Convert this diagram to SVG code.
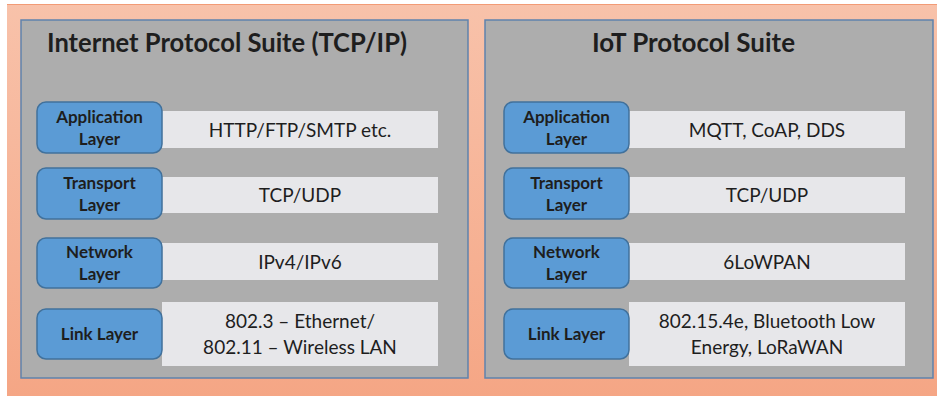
<svg xmlns="http://www.w3.org/2000/svg" width="939" height="397" viewBox="0 0 939 397">
  <defs>
    <linearGradient id="bg" x1="0" y1="0" x2="0" y2="1">
      <stop offset="0" stop-color="#f8c2aa"/>
      <stop offset="1" stop-color="#f5a685"/>
    </linearGradient>
    <style>
      .panel { fill: #adadad; stroke: #5f83ad; stroke-width: 1.5; }
      .title { font-family: Lato, "Liberation Sans", sans-serif; font-weight: bold; font-size: 26px; fill: #1e1e1e; }
      .layer { fill: #5b9bd5; stroke: #41719c; stroke-width: 1.5; }
      .layer-text { font-family: Lato, "Liberation Sans", sans-serif; font-weight: bold; font-size: 17px; fill: #1e1e1e; text-anchor: middle; }
      .proto { fill: #e7e7ea; }
      .proto-text { font-family: Lato, "Liberation Sans", sans-serif; font-size: 19px; fill: #1e1e1e; text-anchor: middle; }
    </style>
  </defs>

  <!-- background -->
  <rect x="7" y="4" width="930" height="392" fill="url(#bg)"/>
  <line x1="7" y1="4.5" x2="937" y2="4.5" stroke="#f29b76" stroke-width="1"/>

  <!-- Internet Protocol Suite -->
  <g id="tcpip-suite">
    <rect class="panel" x="21" y="20" width="447" height="358"/>
    <text class="title" x="47" y="52" textLength="360" lengthAdjust="spacingAndGlyphs">Internet Protocol Suite (TCP/IP)</text>
  </g>
  <g id="tcpip-application">
    <rect class="proto" x="162" y="111" width="276" height="37"/>
    <rect class="layer" x="37" y="102" width="125" height="51" rx="9"/>
    <text class="layer-text" x="99.5" y="123">Application</text>
    <text class="layer-text" x="99.5" y="145">Layer</text>
    <text class="proto-text" x="300" y="137">HTTP/FTP/SMTP etc.</text>
  </g>
  <g id="tcpip-transport">
    <rect class="proto" x="162" y="177" width="276" height="36"/>
    <rect class="layer" x="37" y="168" width="125" height="51" rx="9"/>
    <text class="layer-text" x="99.5" y="189">Transport</text>
    <text class="layer-text" x="99.5" y="211">Layer</text>
    <text class="proto-text" x="300" y="202">TCP/UDP</text>
  </g>
  <g id="tcpip-network">
    <rect class="proto" x="162" y="243" width="276" height="37"/>
    <rect class="layer" x="37" y="238" width="125" height="50" rx="9"/>
    <text class="layer-text" x="99.5" y="258">Network</text>
    <text class="layer-text" x="99.5" y="280">Layer</text>
    <text class="proto-text" x="300" y="269">IPv4/IPv6</text>
  </g>
  <g id="tcpip-link">
    <rect class="proto" x="162" y="302" width="276" height="64"/>
    <rect class="layer" x="37" y="309" width="125" height="50" rx="9"/>
    <text class="layer-text" x="99.5" y="340">Link Layer</text>
    <text class="proto-text" x="300" y="328">802.3 – Ethernet/</text>
    <text class="proto-text" x="300" y="354">802.11 – Wireless LAN</text>
  </g>

  <!-- IoT Protocol Suite -->
  <g id="iot-suite">
    <rect class="panel" x="485" y="20" width="448" height="358"/>
    <text class="title" x="592" y="52" textLength="203" lengthAdjust="spacingAndGlyphs">IoT Protocol Suite</text>
  </g>
  <g id="iot-application">
    <rect class="proto" x="629" y="111" width="276" height="37"/>
    <rect class="layer" x="504" y="102" width="125" height="51" rx="9"/>
    <text class="layer-text" x="566.5" y="123">Application</text>
    <text class="layer-text" x="566.5" y="145">Layer</text>
    <text class="proto-text" x="767" y="137">MQTT, CoAP, DDS</text>
  </g>
  <g id="iot-transport">
    <rect class="proto" x="629" y="177" width="276" height="36"/>
    <rect class="layer" x="504" y="168" width="125" height="51" rx="9"/>
    <text class="layer-text" x="566.5" y="189">Transport</text>
    <text class="layer-text" x="566.5" y="211">Layer</text>
    <text class="proto-text" x="767" y="202">TCP/UDP</text>
  </g>
  <g id="iot-network">
    <rect class="proto" x="629" y="243" width="276" height="37"/>
    <rect class="layer" x="504" y="238" width="125" height="50" rx="9"/>
    <text class="layer-text" x="566.5" y="258">Network</text>
    <text class="layer-text" x="566.5" y="280">Layer</text>
    <text class="proto-text" x="767" y="269">6LoWPAN</text>
  </g>
  <g id="iot-link">
    <rect class="proto" x="629" y="302" width="276" height="64"/>
    <rect class="layer" x="504" y="309" width="125" height="50" rx="9"/>
    <text class="layer-text" x="566.5" y="340">Link Layer</text>
    <text class="proto-text" x="767" y="328">802.15.4e, Bluetooth Low</text>
    <text class="proto-text" x="767" y="354">Energy, LoRaWAN</text>
  </g>

  <!-- no connectors in this diagram -->
  <g id="connectors"/>
</svg>
